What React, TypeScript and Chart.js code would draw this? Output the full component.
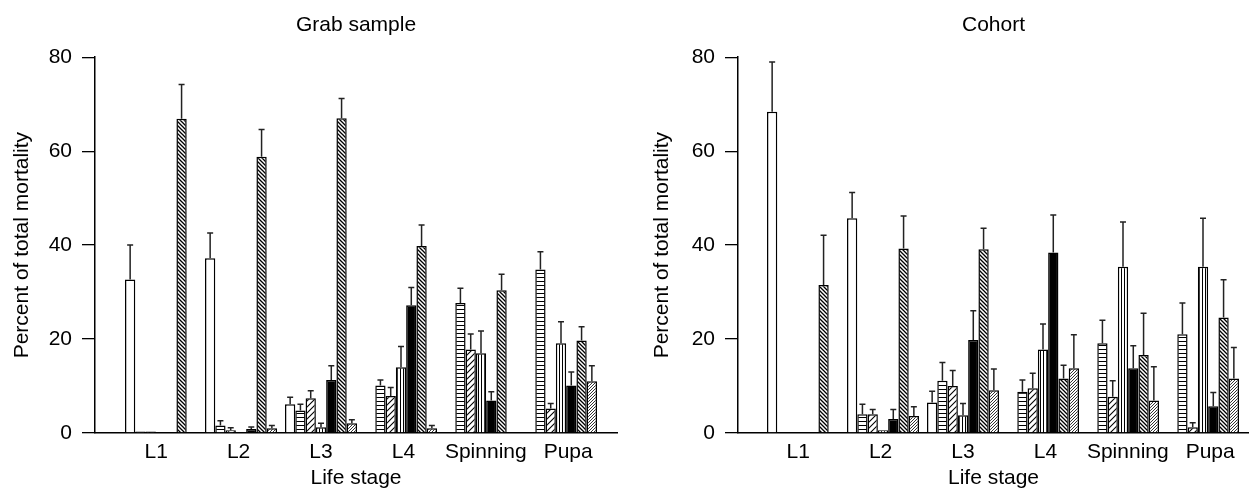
import React, { useEffect, useRef } from 'react';
import { Chart, registerables } from 'chart.js';

Chart.register(...registerables);

const FONT = '"Liberation Sans", Arial, Helvetica, sans-serif';

const categories = ['L1', 'L2', 'L3', 'L4', 'Spinning', 'Pupa'];
const seriesNames = ['Open', 'Horizontal', 'Hatched', 'Vertical', 'Solid', 'Back-hatched', 'Fine-hatched'];
const seriesFills = ['open', 'horizontal', 'slash', 'vertical', 'solid', 'back', 'fine'];
const yTicks = [0, 20, 40, 60, 80];

// Grab sample
const grabOpen = [32.7, 37.2, 6.1, 0, 0, 0];
const grabOpenErr = [7.3, 5.4, 1.5, 0, 0, 0];
const grabHoriz = [0.3, 1.6, 4.8, 10.1, 27.7, 34.8];
const grabHorizErr = [0, 1.0, 1.3, 1.2, 3.1, 3.8];
const grabSlash = [0.3, 0.6, 7.4, 7.9, 17.8, 5.2];
const grabSlashErr = [0, 0.5, 1.6, 1.8, 3.3, 1.1];
const grabVert = [0, 0, 1.2, 14.0, 17.0, 19.1];
const grabVertErr = [0, 0, 0.9, 4.4, 4.7, 4.6];
const grabSolid = [0, 0.85, 11.3, 27.2, 6.9, 10.1];
const grabSolidErr = [0, 0.45, 3.0, 3.8, 1.9, 2.9];
const grabBack = [66.9, 58.8, 67.0, 39.8, 30.4, 19.7];
const grabBackErr = [7.3, 5.8, 4.2, 4.5, 3.4, 2.9];
const grabFine = [0, 1.0, 2.1, 1.0, 0, 11.0];
const grabFineErr = [0, 0.6, 0.7, 0.6, 0, 3.3];

// Cohort
const cohOpen = [68.4, 45.7, 6.5, 0, 0, 0];
const cohOpenErr = [10.6, 5.5, 2.4, 0, 0, 0];
const cohHoriz = [0, 4.0, 11.1, 8.8, 19.1, 21.0];
const cohHorizErr = [0, 2.1, 3.9, 2.5, 4.9, 6.7];
const cohSlash = [0, 4.0, 10.0, 9.5, 7.7, 1.2];
const cohSlashErr = [0, 1.0, 3.3, 3.2, 3.4, 1.0];
const cohVert = [0, 0.6, 3.8, 17.8, 35.4, 35.4];
const cohVertErr = [0, 0, 2.5, 5.4, 9.5, 10.3];
const cohSolid = [0, 3.0, 19.8, 38.4, 13.8, 5.7];
const cohSolidErr = [0, 2.0, 6.2, 8.0, 4.8, 2.9];
const cohBack = [31.5, 39.3, 39.1, 11.6, 16.6, 24.6];
const cohBackErr = [10.6, 6.9, 4.5, 2.8, 8.9, 8.0];
const cohFine = [0, 3.6, 9.1, 13.8, 6.9, 11.6];
const cohFineErr = [0, 2.0, 4.5, 7.1, 7.2, 6.6];

function makePattern(kind: string): CanvasPattern | string {
  if (kind === 'open') return '#ffffff';
  if (kind === 'solid') return '#000000';
  const c = document.createElement('canvas');
  const ctx = c.getContext('2d')!;
  if (kind === 'horizontal') {
    c.width = 4; c.height = 4;
    ctx.fillStyle = '#fff'; ctx.fillRect(0, 0, 4, 4);
    ctx.fillStyle = '#000'; ctx.fillRect(0, 1, 4, 1);
    return ctx.createPattern(c, 'repeat')!;
  }
  if (kind === 'vertical') {
    c.width = 3; c.height = 4;
    ctx.fillStyle = '#fff'; ctx.fillRect(0, 0, 3, 4);
    ctx.fillStyle = '#000'; ctx.fillRect(1, 0, 1, 4);
    return ctx.createPattern(c, 'repeat')!;
  }
  const s = kind === 'slash' ? 6 : kind === 'back' ? 4 : 3;
  const lw = kind === 'fine' ? 0.8 : kind === 'back' ? 1.3 : 1.1;
  c.width = s; c.height = s;
  ctx.fillStyle = '#fff'; ctx.fillRect(0, 0, s, s);
  ctx.strokeStyle = '#000'; ctx.lineWidth = lw;
  ctx.beginPath();
  if (kind === 'back') {
    ctx.moveTo(0, 0); ctx.lineTo(s, s);
    ctx.moveTo(-1, s - 1); ctx.lineTo(1, s + 1);
    ctx.moveTo(s - 1, -1); ctx.lineTo(s + 1, 1);
  } else {
    ctx.moveTo(0, s); ctx.lineTo(s, 0);
    ctx.moveTo(-1, 1); ctx.lineTo(1, -1);
    ctx.moveTo(s - 1, s + 1); ctx.lineTo(s + 1, s - 1);
  }
  ctx.stroke();
  return ctx.createPattern(c, 'repeat')!;
}

const errorBarPlugin = {
  id: 'errorBars',
  afterDatasetsDraw(chart: any) {
    const ctx = chart.ctx;
    const yScale = chart.scales.y;
    ctx.save();
    ctx.strokeStyle = '#222';
    ctx.lineWidth = 1.5;
    chart.data.datasets.forEach((ds: any, i: number) => {
      const meta = chart.getDatasetMeta(i);
      meta.data.forEach((bar: any, j: number) => {
        const e = ds.errors[j];
        if (!e) return;
        const v = ds.data[j].y;
        const yTop = yScale.getPixelForValue(v + e);
        ctx.beginPath();
        ctx.moveTo(bar.x, bar.y);
        ctx.lineTo(bar.x, yTop);
        ctx.moveTo(bar.x - 3, yTop);
        ctx.lineTo(bar.x + 3, yTop);
        ctx.stroke();
      });
    });
    ctx.restore();
  },
};

interface PanelCfg {
  title: string;
  values: number[][];
  errors: number[][];
  yWidth: number;
  yTitlePad: number;
  xMin: number;
  xMax: number;
  padRight: number;
}

// label spacing in the original is slightly wider than the group spacing
const LABEL_SPREAD = 1.03;

function makeChart(canvas: HTMLCanvasElement, p: PanelCfg, fills: (CanvasPattern | string)[]) {
  return new Chart(canvas, {
    type: 'bar',
    data: {
      datasets: p.values.map((vals, i) => ({
        label: seriesNames[i],
        data: vals.map((v, j) => ({ x: j + 1, y: v })),
        errors: p.errors[i],
        backgroundColor: fills[i],
        borderColor: '#000',
        borderWidth: 1.5,
        borderSkipped: 'start',
        categoryPercentage: 0.9,
        barPercentage: 1.0,
      })) as any,
    },
    options: {
      responsive: false,
      maintainAspectRatio: false,
      animation: false,
      devicePixelRatio: 1,
      layout: { padding: { left: 0, right: p.padRight, top: 0, bottom: 0 } },
      plugins: {
        legend: { display: false },
        tooltip: { enabled: false },
        title: {
          display: true,
          text: p.title,
          fullSize: false,
          color: '#000',
          font: { family: FONT, size: 21, weight: 'normal' },
          padding: { top: 13, bottom: 19 },
        },
      },
      scales: {
        x: {
          type: 'linear',
          min: p.xMin,
          max: p.xMax,
          offset: false,
          grid: { display: false, drawTicks: false },
          border: { display: true, color: '#000', width: 1.5 },
          afterBuildTicks: (s: any) => {
            s.ticks = categories.map((_, i) => ({ value: 3 + (i - 2) * LABEL_SPREAD, label: categories[i] }));
          },
          afterFit: (s: any) => {
            s.height = 65;
          },
          ticks: {
            autoSkip: false,
            maxRotation: 0,
            padding: 7,
            color: '#000',
            font: { family: FONT, size: 21 },
            callback: (_v: any, idx: number) => categories[idx] ?? '',
          },
          title: {
            display: true,
            text: 'Life stage',
            color: '#000',
            font: { family: FONT, size: 21 },
            padding: { top: 0, bottom: 7 },
          },
        },
        y: {
          min: 0,
          max: 80,
          afterBuildTicks: (s: any) => {
            s.ticks = yTicks.map((v) => ({ value: v }));
          },
          afterFit: (s: any) => {
            s.width = p.yWidth;
          },
          grid: { display: true, drawOnChartArea: false, drawTicks: true, tickLength: 13, color: '#000', lineWidth: 1.3 },
          border: { display: true, color: '#000', width: 1.5 },
          ticks: { padding: 10, color: '#000', font: { family: FONT, size: 21 } },
          title: {
            display: true,
            text: 'Percent of total mortality',
            color: '#000',
            font: { family: FONT, size: 21 },
            padding: { top: p.yTitlePad, bottom: 0 },
          },
        },
      },
    } as any,
    plugins: [errorBarPlugin],
  });
}

export default function App() {
  const leftRef = useRef<HTMLCanvasElement>(null);
  const rightRef = useRef<HTMLCanvasElement>(null);

  useEffect(() => {
    const fills = seriesFills.map(makePattern);
    const a = makeChart(
      leftRef.current!,
      {
        title: 'Grab sample',
        values: [grabOpen, grabHoriz, grabSlash, grabVert, grabSolid, grabBack, grabFine],
        errors: [grabOpenErr, grabHorizErr, grabSlashErr, grabVertErr, grabSolidErr, grabBackErr, grabFineErr],
        yWidth: 95,
        yTitlePad: 9.5,
        xMin: 0.175,
        xMax: 6.7,
        padRight: 8,
      },
      fills
    );
    const b = makeChart(
      rightRef.current!,
      {
        title: 'Cohort',
        values: [cohOpen, cohHoriz, cohSlash, cohVert, cohSolid, cohBack, cohFine],
        errors: [cohOpenErr, cohHorizErr, cohSlashErr, cohVertErr, cohSolidErr, cohBackErr, cohFineErr],
        yWidth: 113,
        yTitlePad: 24.5,
        xMin: 0.1875,
        xMax: 6.575,
        padRight: 0,
      },
      fills
    );
    return () => {
      a.destroy();
      b.destroy();
    };
  }, []);

  return (
    <div style={{ position: 'fixed', left: 0, top: 0, width: 1249, height: 498, background: '#fff', overflow: 'hidden' }}>
      <canvas ref={leftRef} width={625} height={498} style={{ position: 'absolute', left: 0, top: 0, width: 625, height: 498 }} />
      <canvas ref={rightRef} width={624} height={498} style={{ position: 'absolute', left: 625, top: 0, width: 624, height: 498 }} />
    </div>
  );
}
